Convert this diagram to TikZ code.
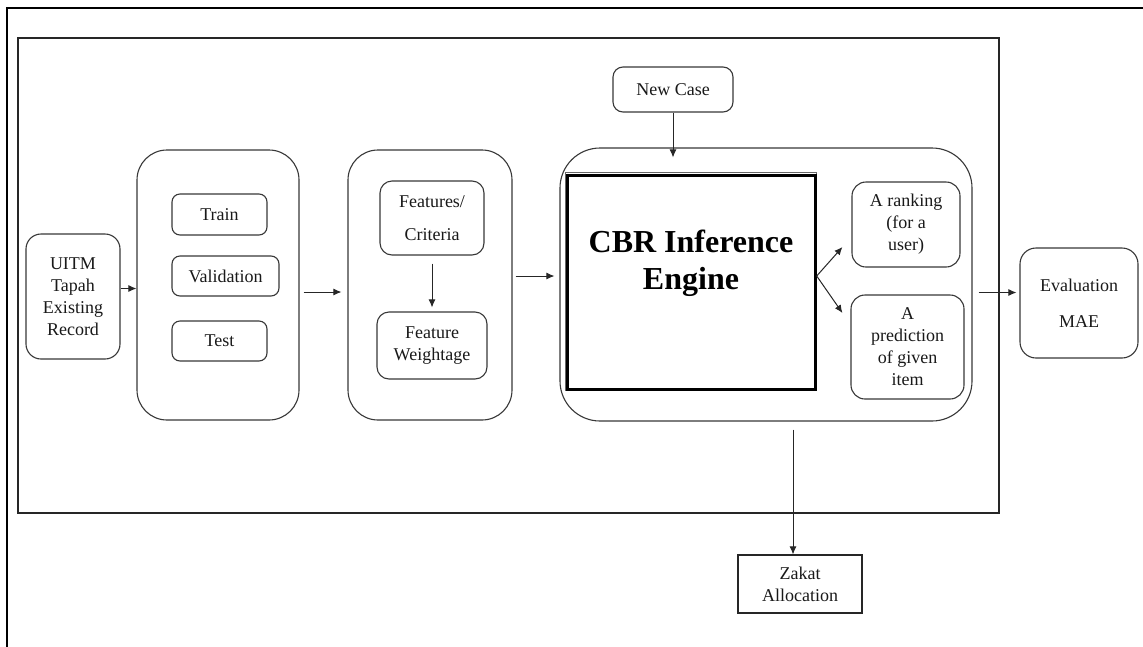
\documentclass[tikz,border=0pt]{standalone}
\usepackage{fontspec}
\setmainfont{Liberation Serif}
\usetikzlibrary{arrows.meta}
\begin{document}
\begin{tikzpicture}[x=1pt,y=-1pt,
  every node/.style={font=\fontsize{18}{22}\selectfont, align=center, inner sep=0pt, text=black!90},
  box/.style={draw=black!78, line width=1.1pt, rounded corners=#1},
  box/.default=8pt,
  sqbox/.style={draw=black!85, line width=1.1pt},
  arr/.style={draw=black!85, line width=1pt, -{Latex[length=8pt,width=7pt]}},
  frame/.style={draw=black!85, line width=1.1pt}]
\clip (0,0) rectangle (1143,646);
\fill[white] (0,0) rectangle (1143,646);
% frames
\draw[draw=black, line width=2.2pt] (7,8) rectangle (1170,680);
\draw[frame] (18,38) rectangle (999,513);
% left
\node[box=15pt, minimum width=94pt, minimum height=125pt] (uitm) at (73,296.5) {UITM\\Tapah\\Existing\\Record};
\node[box=30pt, minimum width=162pt, minimum height=270pt] (s1) at (218,285) {};
\node[box=8pt, minimum width=95pt, minimum height=41pt] (train) at (219.5,214.5) {Train};
\node[box=8pt, minimum width=107pt, minimum height=40pt] (val) at (225.5,276) {Validation};
\node[box=8pt, minimum width=95pt, minimum height=40pt] (test) at (219.5,341) {Test};
% features
\node[box=30pt, minimum width=164pt, minimum height=270pt] (s2) at (430,285) {};
\node[box=12pt, minimum width=104pt, minimum height=74pt] (fc) at (432,218) {Features/\\[11pt]Criteria};
\node[box=12pt, minimum width=110pt, minimum height=67pt] (fw) at (432,345.5) {Feature\\Weightage};
% engine
\node[box=40pt, minimum width=412pt, minimum height=273pt] (s3) at (766,284.5) {};
\node[draw=black!60, line width=0.8pt, minimum width=251pt, minimum height=218pt] (cbrs) at (690.5,281) {};
\node[draw=black, line width=2.4pt, minimum width=248pt, minimum height=214pt] (cbr) at (691.5,282.5) {};
\node[font=\bfseries\fontsize{32}{37}\selectfont, text=black] (cbrt) at (691,263) {CBR Inference\\Engine};
\node[box=10pt, minimum width=120pt, minimum height=45pt] (nc) at (673,89.5) {New Case};
\node[box=14pt, minimum width=108pt, minimum height=85pt] (rank) at (906,224.5) {A ranking\\(for a\\user)};
\node[box=14pt, minimum width=113pt, minimum height=104pt] (pred) at (907.5,347) {A\\prediction\\of given\\item};
% right
\node[box=16pt, minimum width=118pt, minimum height=110pt] (eval) at (1079,303) {Evaluation\\[14pt]MAE};
\node[sqbox, minimum width=124pt, minimum height=58pt] (zak) at (800,584) {Zakat\\Allocation};
% connectors
\draw[arr] ([yshift=8pt]uitm.east) -- ([yshift=8pt]uitm.east -| s1.west);
\draw[arr, shorten <=4pt, shorten >=6pt] ([yshift=-7pt]s1.east) -- ([yshift=-7pt]s1.east -| s2.west);
\draw[arr, shorten <=8pt, shorten >=4pt] (fc.south) -- (fw.north);
\draw[arr, shorten <=3pt, shorten >=5pt] ([yshift=9pt]s2.east) -- ([yshift=9pt]s2.east -| s3.west);
\draw[arr] (nc.south) -- ([yshift=-10pt]nc.south |- s3.north);
\coordinate (fork) at ([yshift=6.5pt]cbr.east);
\draw[arr] (fork) -- ([xshift=-9pt,yshift=-22.5pt]rank.west);
\draw[arr] (fork) -- ([xshift=-8pt,yshift=34pt]pred.west);
\draw[arr, shorten <=6pt, shorten >=3pt] ([yshift=-8pt]s3.east) -- ([yshift=-8pt]s3.east -| eval.west);
\coordinate (zs) at ([xshift=27pt,yshift=-8pt]s3.south);
\draw[arr] (zs) -- (zs |- zak.north);
\end{tikzpicture}
\end{document}
